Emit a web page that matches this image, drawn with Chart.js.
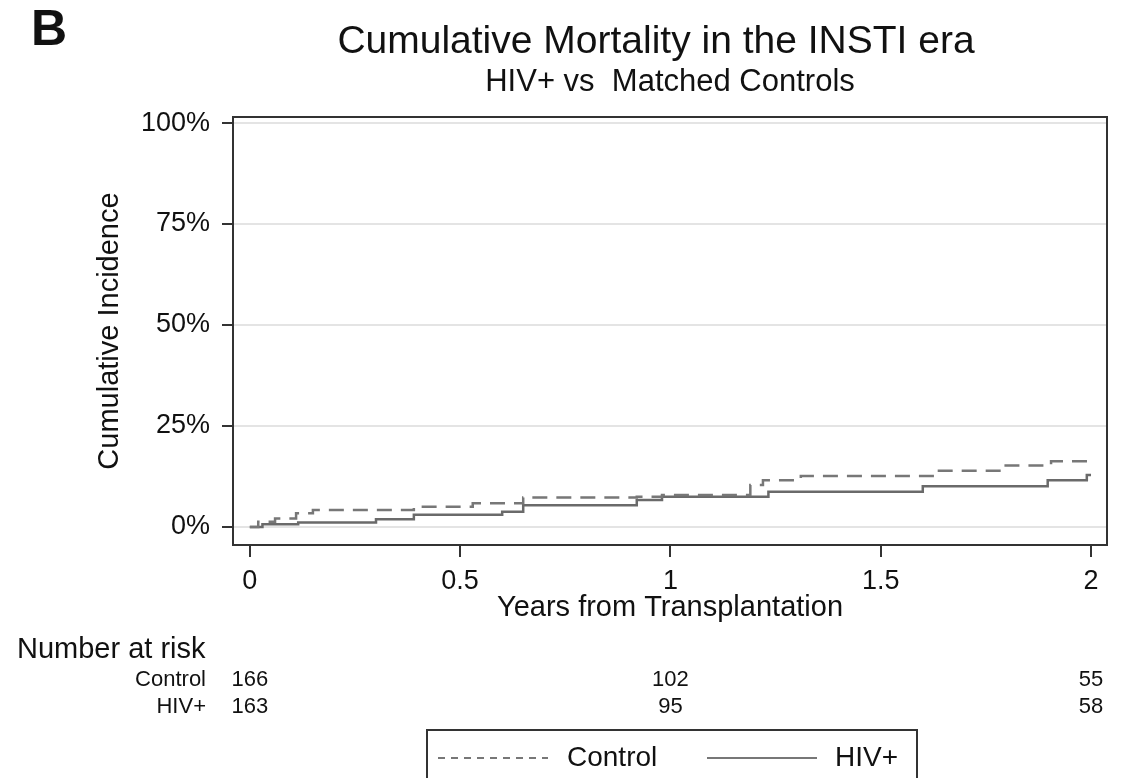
<!DOCTYPE html>
<html>
<head>
<meta charset="utf-8">
<script src="https://cdn.jsdelivr.net/npm/chart.js@4"></script>
<style>
  body { margin: 0; background: #fff; }
</style>
</head>
<body>
<canvas id="chart" width="1128" height="778"></canvas>
<script>
const FONT = '"Liberation Sans", Arial, Helvetica, sans-serif';

// axis ticks
const xTicks = [0, 0.5, 1, 1.5, 2];
const yTicks = [0, 25, 50, 75, 100];

// cumulative incidence (%)
const controlTimes = [0, 0.02, 0.06, 0.11, 0.15, 0.39, 0.53, 0.65, 0.92, 0.98, 1.19, 1.22, 1.31, 1.63, 1.79, 1.905, 2.0];
const controlPct   = [0, 1.3, 2.1, 3.4, 4.2, 5.0, 5.9, 7.3, 7.5, 7.9, 10.4, 11.6, 12.6, 13.9, 15.2, 16.3, 16.3];
const hivTimes = [0, 0.03, 0.115, 0.30, 0.39, 0.60, 0.65, 0.92, 0.98, 1.233, 1.60, 1.897, 1.99, 2.0];
const hivPct   = [0, 0.7, 1.1, 1.9, 3.0, 3.8, 5.4, 6.7, 7.5, 8.7, 10.1, 11.6, 12.9, 12.9];

// number at risk
const riskTimes = [0, 1, 2];
const riskControl = [166, 102, 55];
const riskHiv = [163, 95, 58];

const toPoints = (ts, ys) => ts.map((t, i) => ({ x: t, y: ys[i] }));

// titles, frame, panel letter, risk table and legend box
const extras = {
  id: 'extras',
  afterDraw(chart) {
    const { ctx, chartArea: a, scales } = chart;
    const x = scales.x;
    const mid = (a.left + a.right) / 2;
    ctx.save();
    ctx.strokeStyle = '#333';
    ctx.lineWidth = 2;
    ctx.strokeRect(a.left, a.top, a.right - a.left, a.bottom - a.top);

    ctx.fillStyle = '#111';
    ctx.textBaseline = 'middle';
    ctx.textAlign = 'center';
    ctx.font = '39px ' + FONT;
    ctx.fillText('Cumulative Mortality in the INSTI era', mid - 14, 42);
    ctx.font = '31px ' + FONT;
    ctx.fillText('HIV+ vs  Matched Controls', mid, 82);

    ctx.font = 'bold 50px ' + FONT;
    ctx.textBaseline = 'alphabetic';
    ctx.textAlign = 'left';
    ctx.fillText('B', 31, 45);

    ctx.textBaseline = 'middle';
    ctx.font = '29px ' + FONT;
    ctx.fillText('Number at risk', 17, 650);
    ctx.font = '22px ' + FONT;
    ctx.textAlign = 'right';
    ctx.fillText('Control', 206, 680);
    ctx.fillText('HIV+', 206, 707);
    ctx.textAlign = 'center';
    riskTimes.forEach((t, i) => {
      const px = x.getPixelForValue(t);
      ctx.fillText(String(riskControl[i]), px, 680);
      ctx.fillText(String(riskHiv[i]), px, 707);
    });

    // legend
    ctx.strokeStyle = '#333';
    ctx.lineWidth = 2;
    ctx.strokeRect(427, 730, 490, 70);
    ctx.strokeStyle = '#777';
    ctx.lineWidth = 2;
    ctx.setLineDash([7, 6]);
    ctx.beginPath(); ctx.moveTo(438, 758); ctx.lineTo(548, 758); ctx.stroke();
    ctx.setLineDash([]);
    ctx.beginPath(); ctx.moveTo(707, 758); ctx.lineTo(817, 758); ctx.stroke();
    ctx.font = '28px ' + FONT;
    ctx.textAlign = 'left';
    ctx.fillStyle = '#111';
    ctx.fillText('Control', 567, 758);
    ctx.fillText('HIV+', 835, 758);
    ctx.restore();
  }
};

new Chart(document.getElementById('chart'), {
  type: 'line',
  data: {
    datasets: [
      {
        label: 'Control',
        data: toPoints(controlTimes, controlPct),
        borderColor: '#777',
        borderWidth: 2.5,
        borderDash: [15, 9],
        stepped: 'before',
        pointRadius: 0,
        fill: false,
      },
      {
        label: 'HIV+',
        data: toPoints(hivTimes, hivPct),
        borderColor: '#6a6a6a',
        borderWidth: 2.5,
        stepped: 'before',
        pointRadius: 0,
        fill: false,
      },
    ],
  },
  options: {
    responsive: false,
    animation: false,
    devicePixelRatio: 1,
    layout: { padding: { left: 0, right: 21, top: 117, bottom: 153 } },
    plugins: {
      legend: { display: false },
      tooltip: { enabled: false },
      title: { display: false },
    },
    scales: {
      x: {
        type: 'linear',
        min: -0.04,
        max: 2.038,
        afterBuildTicks: (s) => { s.ticks = xTicks.map(v => ({ value: v })); },
        afterFit: (s) => { s.height = 80; },
        ticks: {
          color: '#111',
          font: { family: FONT, size: 27 },
          padding: 8,
          maxRotation: 0,
          callback: (v) => String(v),
        },
        grid: { drawOnChartArea: false, tickColor: '#333', tickLength: 12, lineWidth: 2 },
        border: { display: true, color: '#333', width: 2 },
        title: {
          display: true,
          text: 'Years from Transplantation',
          color: '#111',
          font: { family: FONT, size: 29 },
          padding: { top: 0, bottom: 0 },
        },
      },
      y: {
        min: -4.46,
        max: 101.5,
        afterBuildTicks: (s) => { s.ticks = yTicks.map(v => ({ value: v })); },
        afterFit: (s) => { s.width = 233; },
        ticks: {
          color: '#111',
          font: { family: FONT, size: 27 },
          padding: 12,
          callback: (v) => v + '%',
        },
        grid: { color: '#e4e4e4', tickColor: '#333', tickLength: 11, lineWidth: 2 },
        border: { display: true, color: '#333', width: 2 },
        title: {
          display: true,
          text: 'Cumulative Incidence',
          color: '#111',
          font: { family: FONT, size: 29 },
          padding: { top: 93, bottom: 0 },
        },
      },
    },
  },
  plugins: [extras],
});
</script>
</body>
</html>
